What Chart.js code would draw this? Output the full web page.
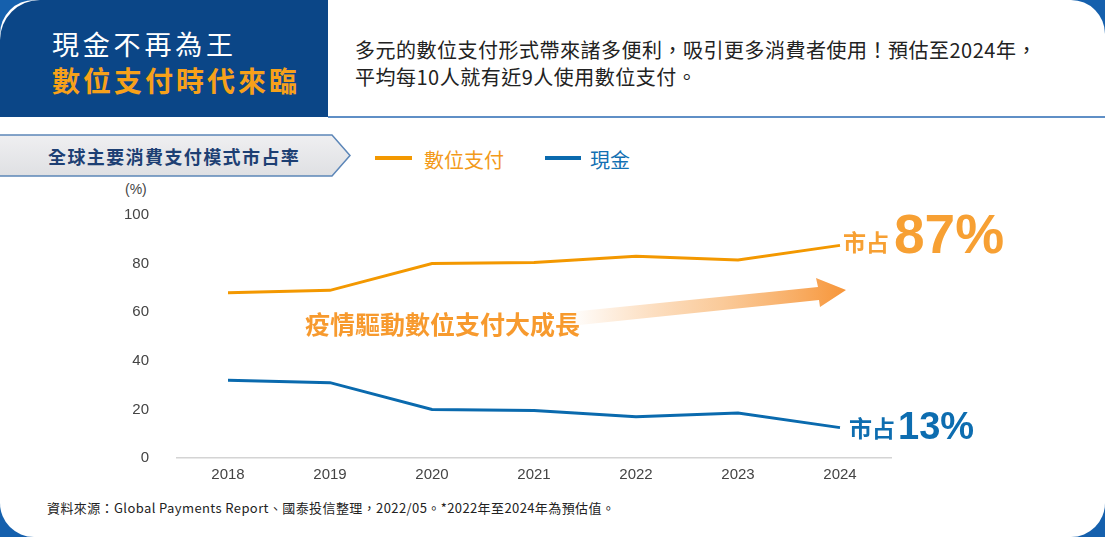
<!DOCTYPE html>
<html><head><meta charset="utf-8">
<script src="https://cdn.jsdelivr.net/npm/chart.js@4.4.1/dist/chart.umd.min.js"></script>
<style>
html,body{margin:0;padding:0;}
body{width:1105px;height:537px;background:#1560ad;position:relative;overflow:hidden;font-family:"Noto Sans CJK TC","Noto Sans",sans-serif;}
#card{position:absolute;left:0;top:0;width:1105px;height:537px;background:#fff;border-radius:34px;}
#titlebox{position:absolute;left:0;top:0;width:328px;height:117px;background:#0b4687;border-top-left-radius:40px;}
#t1{position:absolute;left:52px;top:24px;color:#fff;font-size:27px;letter-spacing:3.8px;white-space:nowrap;}
#t2{position:absolute;left:52px;top:60px;color:#f7a11a;font-size:28px;font-weight:bold;letter-spacing:3px;white-space:nowrap;}
#sep{position:absolute;left:328px;top:116px;width:777px;height:2px;background:#5f8fc6;}
#desc{position:absolute;left:355px;top:36px;font-size:20px;line-height:27px;color:#222;white-space:nowrap;letter-spacing:0.5px;}
#sec{position:absolute;left:0;top:134px;}
#sectxt{position:absolute;left:48px;top:143px;font-size:18px;font-weight:bold;color:#1d3f73;white-space:nowrap;letter-spacing:1.4px;}
.lg{position:absolute;top:145px;font-size:20px;white-space:nowrap;}
.lgl{position:absolute;top:156px;height:4px;}
#pct{position:absolute;left:125px;top:181px;font-size:14px;color:#444;font-family:"Liberation Sans",Arial,sans-serif;}
#ann{position:absolute;left:305px;top:305px;font-size:25px;font-weight:bold;color:#f79a2e;white-space:nowrap;z-index:3;}
#src{position:absolute;left:47px;top:498px;font-size:13px;color:#222;white-space:nowrap;letter-spacing:0.4px;}
#arrow{position:absolute;left:0;top:0;z-index:1;}
#wrap{position:absolute;left:0;top:0;width:1105px;height:537px;z-index:2;}
</style></head>
<body>
<div id="card"></div>
<div id="titlebox"></div>
<div id="t1">現金不再為王</div>
<div id="t2">數位支付時代來臨</div>
<div id="sep"></div>
<div id="desc">多元的數位支付形式帶來諸多便利，吸引更多消費者使用！預估至2024年，<br>平均每10人就有近9人使用數位支付。</div>
<svg id="sec" width="360" height="44"><defs><linearGradient id="sg" x1="0" y1="0" x2="0" y2="1"><stop offset="0" stop-color="#efeff1"/><stop offset="1" stop-color="#dfe0e3"/></linearGradient></defs><polygon points="-2,1 332,1 350,21.5 332,42 -2,42" fill="url(#sg)" stroke="#5c86b8" stroke-width="1.5"/></svg>
<div id="sectxt">全球主要消費支付模式市占率</div>
<div class="lgl" style="left:375px;width:37px;background:#f39800"></div>
<div class="lg" style="left:424px;color:#f39a1a">數位支付</div>
<div class="lgl" style="left:545px;width:36px;background:#0a6aae"></div>
<div class="lg" style="left:590px;color:#1270b3">現金</div>
<div id="pct">(%)</div>
<svg id="arrow" width="1105" height="537"><defs><linearGradient id="ag" x1="570" y1="0" x2="845" y2="0" gradientUnits="userSpaceOnUse"><stop offset="0" stop-color="#f7a04a" stop-opacity="0"/><stop offset="0.55" stop-color="#f8b46f" stop-opacity="0.7"/><stop offset="1" stop-color="#f7963a"/></linearGradient></defs>
<polygon points="560,313 818,287 816,278 846,290 820,307 819,300 560,327" fill="url(#ag)"/></svg>
<div id="ann">疫情驅動數位支付大成長</div>
<div id="src">資料來源：Global Payments Report、國泰投信整理，2022/05。*2022年至2024年為預估值。</div>
<div id="wrap"><canvas id="c" width="1105" height="537"></canvas></div>
<script>
const years = ['2018','2019','2020','2021','2022','2023','2024'];
const digitalShare = [68, 69, 80, 80.5, 83, 81.5, 87.5];
const cashShare = [32, 31, 20, 19.5, 17, 18.5, 12.5];
const yTicks = [0, 20, 40, 60, 80, 100];
const endLabels = ['87%', '13%'];

const ORANGE = '#f39800', BLUE = '#0a6aae';

const endLabelPlugin = {
  id: 'endLabels',
  afterDatasetsDraw(chart) {
    const ctx = chart.ctx;
    const xs = chart.scales.x, ys = chart.scales.y;
    const last = years.length - 1;
    const specs = [
      {ds: 0, color: '#f7a033', smallSize: 23, bigSize: 55, dx: 3, dy: 8, gap: 5},
      {ds: 1, color: '#0d6db0', smallSize: 23, bigSize: 38, dx: 9, dy: 11, gap: 3}
    ];
    specs.forEach((s, i) => {
      const v = chart.data.datasets[s.ds].data[last];
      const x = xs.getPixelForValue(last) + s.dx;
      const y = ys.getPixelForValue(v) + s.dy;
      ctx.save();
      ctx.fillStyle = s.color;
      ctx.textBaseline = 'alphabetic';
      ctx.font = 'bold ' + s.smallSize + 'px "Noto Sans CJK TC", sans-serif';
      ctx.fillText('市占', x, y - 2);
      const w = ctx.measureText('市占').width;
      ctx.font = 'bold ' + s.bigSize + 'px "Liberation Sans", Arial, sans-serif';
      ctx.fillText(endLabels[i], x + w + s.gap, y);
      ctx.restore();
    });
  }
};

new Chart(document.getElementById('c'), {
  type: 'line',
  data: {
    labels: years,
    datasets: [
      {label: '數位支付', data: digitalShare, borderColor: ORANGE, borderWidth: 3, pointRadius: 0, tension: 0, fill: false},
      {label: '現金', data: cashShare, borderColor: BLUE, borderWidth: 3, pointRadius: 0, tension: 0, fill: false}
    ]
  },
  options: {
    responsive: false,
    animation: false,
    events: [],
    layout: {padding: {left: 0, top: 215, right: 214, bottom: 49}},
    plugins: {legend: {display: false}, tooltip: {enabled: false}},
    scales: {
      x: {
        offset: true,
        grid: {display: false, drawTicks: false},
        border: {display: true, color: '#d4d4d4', width: 1.5},
        ticks: {color: '#444', padding: 8, font: {family: '"Liberation Sans", Arial, sans-serif', size: 15}},
        afterFit(a) { a.height = 30; }
      },
      y: {
        min: 0, max: 100,
        afterBuildTicks(a) { a.ticks = yTicks.map(v => ({value: v})); },
        grid: {display: false, drawTicks: false},
        border: {display: false},
        ticks: {color: '#444', padding: 28, font: {family: '"Liberation Sans", Arial, sans-serif', size: 15}},
        afterFit(a) { a.width = 177; }
      }
    }
  },
  plugins: [endLabelPlugin]
});
</script>
</body></html>
